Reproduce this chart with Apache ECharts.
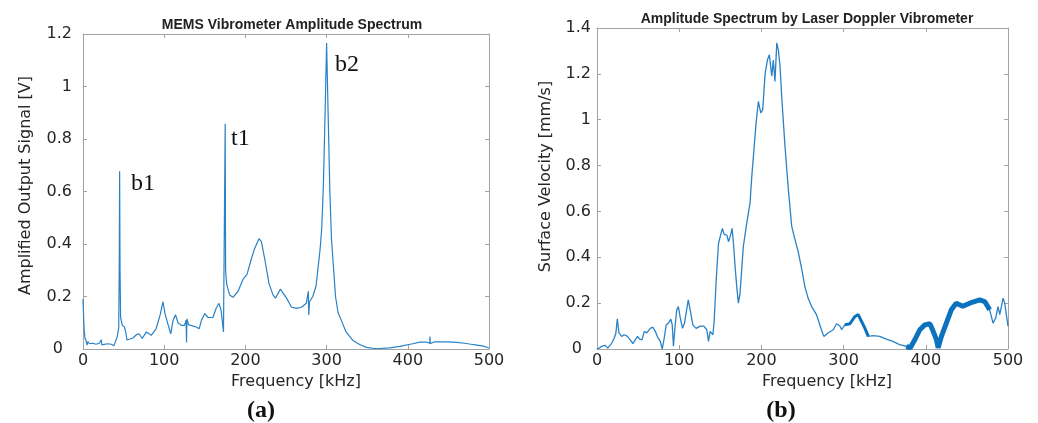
<!DOCTYPE html>
<html>
<head>
<meta charset="utf-8">
<title>MEMS vs LDV amplitude spectrum</title>
<script src="https://cdn.jsdelivr.net/npm/echarts@6/dist/echarts.min.js"></script>
<style>
  html, body { margin: 0; padding: 0; background: #fff; }
  #main { width: 1038px; height: 423px; }
</style>
</head>
<body>
<div id="main"></div>
<script>
// (a) MEMS vibrometer: frequency [kHz] / amplified output [V]
var memsFreq = [0, 0.8, 1.5, 2.5, 4, 5, 6, 8, 12, 16, 20, 22, 22.6, 23.2, 24, 30, 35, 38, 40, 42, 44, 44.6, 45.1, 45.6, 46.3,
  48.4, 51, 53, 54, 58, 61.5, 66, 69, 73, 78, 80, 84, 90, 95, 98.5, 101, 105, 108, 111, 114, 117, 121, 125, 127, 127.5, 128,
  130, 133, 139.5, 143, 146, 150, 154, 160, 164, 167.5, 170, 173, 174.5, 175.1, 175.6, 177, 180.6, 184.7, 191, 197, 202,
  207, 211, 216.7, 219.6, 224, 229, 234, 237, 240, 243, 248, 252, 256.6, 263, 269, 275, 277.5, 278, 279, 283, 287, 289.5,
  292, 294, 296, 298, 300, 302, 304, 306, 308.5, 311, 314, 318, 324, 332.5, 340.7, 349, 361, 377.6, 390, 406, 415, 423,
  427, 427.3, 427.6, 432, 439, 450, 460, 470, 476, 485, 493, 500];
var memsAmp = [0.19, 0.12, 0.07, 0.04, 0.03, 0.015, 0.028, 0.02, 0.022, 0.018, 0.022, 0.02, 0.035, 0.016, 0.022, 0.02, 0.018,
  0.012, 0.008, 0.045, 0.08, 0.3, 0.677, 0.3, 0.12,
  0.09, 0.084, 0.06, 0.035, 0.038, 0.042, 0.055, 0.058, 0.04, 0.065, 0.062, 0.052, 0.077, 0.13, 0.18, 0.135, 0.09, 0.058,
  0.11, 0.13, 0.1, 0.09, 0.09, 0.11, 0.025, 0.115,
  0.092, 0.09, 0.084, 0.077, 0.11, 0.135, 0.12, 0.12, 0.155, 0.174, 0.148, 0.065, 0.063, 0.858, 0.3, 0.245, 0.206, 0.197,
  0.22, 0.265, 0.284,
  0.34, 0.38, 0.42, 0.41, 0.34, 0.25, 0.206, 0.194, 0.21, 0.228, 0.206, 0.187, 0.16, 0.155, 0.159, 0.174, 0.22, 0.13, 0.18,
  0.2, 0.24, 0.31,
  0.38, 0.46, 0.62, 0.88, 1.166, 0.88, 0.6, 0.42, 0.31, 0.2, 0.14, 0.11, 0.065, 0.032, 0.017, 0.006, 0.001, 0.004, 0.01,
  0.02, 0.026, 0.026,
  0.022, 0.048, 0.02, 0.027, 0.027, 0.027, 0.025, 0.022, 0.019, 0.015, 0.011, 0.004];

// (b) laser Doppler vibrometer: frequency [kHz] / surface velocity [mm/s]
var ldvFreq = [0, 3, 6, 10, 13, 15.4, 18, 21, 23, 24.7, 26.7, 28.3, 30, 33, 37, 40.5, 43.7, 46.5, 49.4, 51.8, 54.7, 57.5,
  60.7, 64.8, 68, 70.9, 73.7, 77, 79.4, 81.8, 84.2, 87, 89.9, 91.5, 93, 95, 97, 99, 101, 104, 106.5, 109, 111, 113.4, 116.6,
  120.6, 125.5, 130, 133.6, 135.6, 137.7, 141, 142.5, 145, 147.8, 150.6, 152.6, 154.7, 158, 160, 162, 164.4, 166, 168, 170,
  172, 174, 176, 178, 182.2, 186.2, 188.3, 190.3, 193.5, 196.3, 199.2, 201.6, 204.5, 207.3, 209.7, 212.6, 214.5, 216.5,
  218.7, 220.6, 222.7, 224.7, 228.7, 232.8, 236.9, 240.9, 245, 249, 253, 257, 261, 267, 273, 276, 281, 287.4, 291.5, 295.5,
  297.6, 301.6, 307.7, 313.8, 317.8, 321.9, 326, 330, 336, 344, 352, 360, 368, 376.5, 381, 386.6, 392.7, 398.8, 405, 409,
  413, 415, 419, 425, 431, 437, 445, 453.4, 465.6, 471.7, 477.7, 481.8, 485, 487.9, 490, 494, 496, 500];
var ldvVel = [0, 0.005, 0.012, 0.016, 0.004, 0.004, 0.026, 0.048, 0.07, 0.132, 0.07, 0.077, 0.055, 0.062, 0.055, 0.04, 0.023,
  0.04, 0.055, 0.043, 0.04, 0.077,
  0.07, 0.09, 0.095, 0.077, 0.052, 0.033, 0, 0.048, 0.105, 0.113, 0.13, 0.105, 0.012, 0.1, 0.17, 0.185, 0.142, 0.09, 0.113,
  0.17, 0.214, 0.17, 0.105,
  0.09, 0.1, 0.1, 0.084, 0.033, 0.077, 0.062, 0.12, 0.3, 0.46, 0.5, 0.526, 0.5, 0.497, 0.468, 0.49, 0.526, 0.46, 0.36, 0.272,
  0.2, 0.243, 0.345, 0.447, 0.55, 0.637, 0.753, 0.84, 0.985, 1.08, 1.03, 1.044, 1.2, 1.26, 1.283, 1.19, 1.26, 1.167,
  1.335, 1.305, 1.232, 1.1, 0.884, 0.695, 0.535, 0.477, 0.42, 0.35, 0.27, 0.22, 0.186, 0.15, 0.084, 0.055, 0.07, 0.084,
  0.11, 0.1,
  0.084, 0.106, 0.11, 0.142, 0.15, 0.12, 0.09, 0.055, 0.058, 0.055, 0.043, 0.033, 0.019, 0.012, 0.004, 0.04, 0.084, 0.105,
  0.11, 0.077,
  0.04, 0.005, 0.055, 0.113, 0.171, 0.2, 0.186, 0.2, 0.214, 0.207, 0.171, 0.113, 0.135, 0.185, 0.15, 0.222, 0.2, 0.1];

var peakNotes = ['b1', 't1', 'b2'];

function pairs(xs, ys, lo, hi) {
  var out = [];
  for (var i = 0; i < xs.length; i++) {
    if (xs[i] >= lo && xs[i] <= hi) out.push([xs[i], ys[i]]);
  }
  return out;
}

var lineColor = '#2a82c6';
var bandColor = '#0b72bd';
var frameColor = '#a3a3a3';
var txt = '#262626';
var sans = '"DejaVu Sans", sans-serif';

function xAx(grid, nameShift) {
  return [{
    type: 'value', gridIndex: grid, min: 0, max: 500, interval: 100,
    name: 'Frequency [kHz]', nameLocation: 'middle', nameGap: 17,
    nameTextStyle: { fontFamily: sans, fontSize: 16, color: txt, padding: [0, 0, 0, nameShift] },
    axisLine: { onZero: false, lineStyle: { color: frameColor } },
    axisTick: { inside: true, length: 4, lineStyle: { color: frameColor } },
    axisLabel: { fontFamily: sans, fontSize: 16, color: txt, margin: 4 },
    splitLine: { show: false }
  }, {
    type: 'value', gridIndex: grid, position: 'top', min: 0, max: 500, interval: 100,
    axisLine: { onZero: false, lineStyle: { color: frameColor } },
    axisTick: { inside: true, length: 4, lineStyle: { color: frameColor } },
    axisLabel: { show: false }, splitLine: { show: false }
  }];
}

function yAx(grid, max, name, gap, shift, margin) {
  return [{
    type: 'value', gridIndex: grid, min: 0, max: max, interval: 0.2,
    name: name, nameLocation: 'middle', nameGap: gap, nameRotate: 90,
    nameTextStyle: { fontFamily: sans, fontSize: 16, color: txt, padding: [0, 0, 0, shift] },
    axisLine: { show: true, onZero: false, lineStyle: { color: frameColor } },
    axisTick: { show: true, inside: true, length: 4, lineStyle: { color: frameColor } },
    axisLabel: {
      fontFamily: sans, fontSize: 16, color: txt, margin: margin,
      // the zero label sits a little left of the others, as in the source figure
      formatter: function (v) { return v === 0 ? '{z|0}' : String(+v.toFixed(1)); },
      rich: { z: { fontFamily: sans, fontSize: 16, color: txt, padding: [0, 9, 0, 0] } }
    },
    splitLine: { show: false }
  }, {
    type: 'value', gridIndex: grid, position: 'right', min: 0, max: max, interval: 0.2,
    axisLine: { show: true, onZero: false, lineStyle: { color: frameColor } },
    axisTick: { show: true, inside: true, length: 4, lineStyle: { color: frameColor } },
    axisLabel: { show: false }, splitLine: { show: false }
  }];
}

var chart = echarts.init(document.getElementById('main'));
var option = {
  animation: false,
  backgroundColor: '#fff',
  title: [{
    text: 'MEMS Vibrometer Amplitude Spectrum', left: 287, top: 13, textAlign: 'center',
    textStyle: { fontFamily: '"Liberation Sans", Arial', fontSize: 14, fontWeight: 'bold', color: '#222' }
  }, {
    text: 'Amplitude Spectrum by Laser Doppler Vibrometer', left: 802, top: 7, textAlign: 'center',
    textStyle: { fontFamily: '"Liberation Sans", Arial', fontSize: 14, fontWeight: 'bold', color: '#222' }
  }],
  grid: [
    { left: 83, top: 34, width: 406, height: 315 },
    { left: 597, top: 28, width: 411, height: 321 }
  ],
  xAxis: xAx(0, 20).concat(xAx(1, 49)),
  yAxis: yAx(0, 1.2, 'Amplified Output Signal [V]', 49, 12, 11)
    .concat(yAx(1, 1.4, 'Surface Velocity [mm/s]', 43, 24, 6)),
  series: [{
    type: 'line', xAxisIndex: 0, yAxisIndex: 0, showSymbol: false,
    data: pairs(memsFreq, memsAmp, 0, 500),
    lineStyle: { color: lineColor, width: 1.2 }
  }, {
    type: 'line', xAxisIndex: 2, yAxisIndex: 2, showSymbol: false,
    data: pairs(ldvFreq, ldvVel, 0, 500),
    lineStyle: { color: lineColor, width: 1.3 }
  }, {
    // noisy, thick-looking stretches of the LDV trace
    type: 'line', xAxisIndex: 2, yAxisIndex: 2, showSymbol: false,
    data: pairs(ldvFreq, ldvVel, 301, 331),
    lineStyle: { color: bandColor, width: 3 }
  }, {
    type: 'line', xAxisIndex: 2, yAxisIndex: 2, showSymbol: false,
    data: pairs(ldvFreq, ldvVel, 376, 478),
    lineStyle: { color: bandColor, width: 5 }
  }],
  graphic: [
    { type: 'text', x: 131, y: 172, style: { text: peakNotes[0], font: '24px "Liberation Serif"', fill: '#111', align: 'left', verticalAlign: 'top' } },
    { type: 'text', x: 231, y: 127, style: { text: peakNotes[1], font: '24px "Liberation Serif"', fill: '#111', align: 'left', verticalAlign: 'top' } },
    { type: 'text', x: 335, y: 53, style: { text: peakNotes[2], font: '24px "Liberation Serif"', fill: '#111', align: 'left', verticalAlign: 'top' } },
    { type: 'text', x: 261, y: 411, style: { text: '(a)', font: 'bold 24px "Liberation Serif"', fill: '#111', align: 'center', verticalAlign: 'middle' } },
    { type: 'text', x: 781, y: 411, style: { text: '(b)', font: 'bold 24px "Liberation Serif"', fill: '#111', align: 'center', verticalAlign: 'middle' } }
  ]
};
chart.setOption(option);
</script>
</body>
</html>
